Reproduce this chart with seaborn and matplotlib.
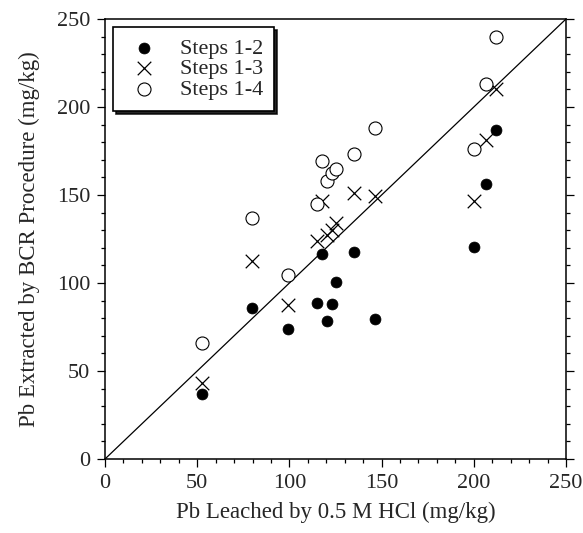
import numpy as np
import pandas as pd
import seaborn as sns
import matplotlib
matplotlib.use("Agg")
import matplotlib.pyplot as plt
from matplotlib.ticker import MultipleLocator

# ---- data ----
hcl_leached = [52.8, 79.7, 99.4, 114.8, 117.5, 120.2, 122.9, 125.1, 135.0, 146.6, 200.3, 206.6, 212.0]
steps_1_2 = [37.0, 85.7, 73.6, 88.8, 116.5, 78.5, 88.2, 100.5, 117.4, 79.5, 120.3, 156.5, 187.2]
steps_1_3 = [43.2, 112.5, 87.6, 123.7, 146.4, 127.0, 130.0, 134.0, 151.2, 149.7, 146.6, 181.1, 210.2]
steps_1_4 = [66.0, 137.0, 104.3, 145.1, 169.2, 158.0, 162.7, 164.6, 173.4, 188.2, 176.4, 213.0, 239.9]
series_names = ["Steps 1-2", "Steps 1-3", "Steps 1-4"]
axis_ticks = [0, 50, 100, 150, 200, 250]
line_1to1 = [0, 250]

sns.set_theme(style="white")
plt.rcParams["font.family"] = ["Liberation Serif", "DejaVu Serif"]

df = pd.DataFrame({
    "x": hcl_leached * 3,
    "y": steps_1_2 + steps_1_3 + steps_1_4,
    "series": sum([[n] * len(hcl_leached) for n in series_names], []),
})

fig = plt.figure(figsize=(5.83, 5.33), dpi=100)
ax = fig.add_axes([105 / 583, 1 - 459 / 533, 461 / 583, 440 / 533])

sns.lineplot(x=line_1to1, y=line_1to1, ax=ax, color="black", linewidth=0.9, legend=False)

sub = df[df.series == "Steps 1-2"]
sns.scatterplot(data=sub, x="x", y="y", ax=ax, marker="o", s=62, color="black",
                edgecolor="black", linewidth=0.5, label="Steps 1-2", zorder=3)
sub = df[df.series == "Steps 1-3"]
sns.scatterplot(data=sub, x="x", y="y", ax=ax, marker="x", s=95, color="black",
                linewidth=0.9, label="Steps 1-3", zorder=3)
sub = df[df.series == "Steps 1-4"]
sns.scatterplot(data=sub, x="x", y="y", ax=ax, marker="o", s=88, facecolor="white",
                edgecolor="black", linewidth=0.8, label="Steps 1-4", zorder=3)

ax.set_xlim(0, 250)
ax.set_ylim(0, 250)
ax.set_xticks(axis_ticks)
ax.set_yticks(axis_ticks)
ax.xaxis.set_minor_locator(MultipleLocator(10))
ax.yaxis.set_minor_locator(MultipleLocator(10))
ax.tick_params(which="both", direction="out", bottom=True, left=True, right=True, top=False,
               labelright=False, labeltop=False, color="black", width=0.9)
ax.tick_params(which="major", length=5.5, labelsize=16, pad=5)
ax.tick_params(which="minor", length=3)
for sp in ax.spines.values():
    sp.set_color("black")
    sp.set_linewidth(1.1)

ax.set_xlabel("Pb Leached by 0.5 M HCl (mg/kg)", fontsize=16.5, labelpad=7)
ax.set_ylabel("Pb Extracted by BCR Procedure (mg/kg)", fontsize=16.5, labelpad=12)

leg = ax.legend(loc="upper left", bbox_to_anchor=(0.017, 0.982), fontsize=16,
                frameon=True, fancybox=False, shadow={"color": "black", "alpha": 0.85},
                edgecolor="black", framealpha=1, borderpad=0.5, labelspacing=0.0,
                handletextpad=0.7, handlelength=1.8, borderaxespad=0)
leg.get_frame().set_linewidth(1.2)

fig.savefig("out.png", dpi=100)
